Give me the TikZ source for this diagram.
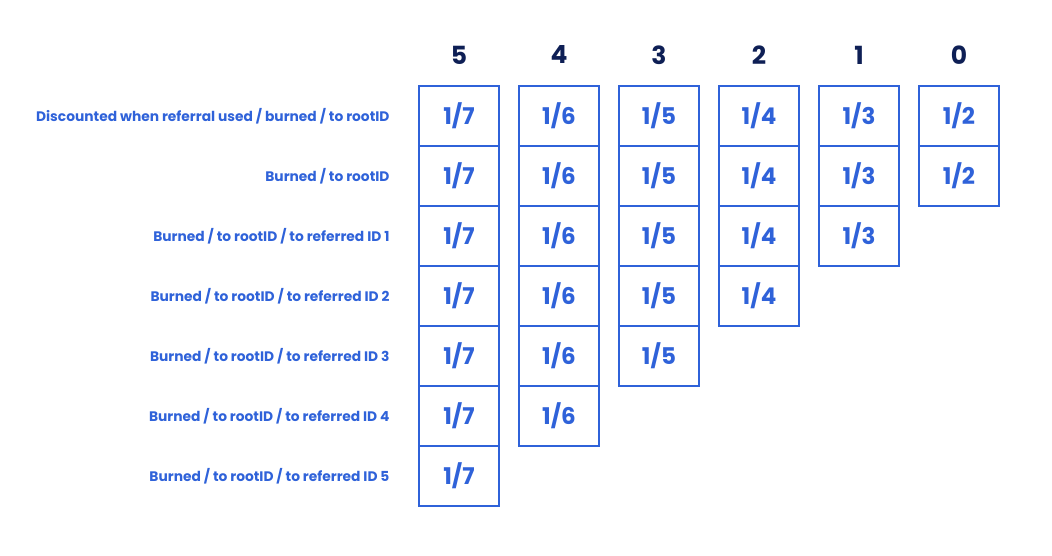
\documentclass[tikz,border=0pt]{standalone}
\usepackage{fontspec}
\setmainfont{Poppins}
\definecolor{shareblue}{HTML}{2F62D9}
\definecolor{headnavy}{HTML}{0E1F55}
\tikzset{
  sharebox/.style={draw=shareblue, line width=1.5pt, minimum width=80pt, minimum height=60pt,
    inner sep=0pt, text=shareblue, font=\fontsize{23}{23}\selectfont\bfseries},
  colhead/.style={text=headnavy, font=\fontsize{25}{25}\selectfont\bfseries},
  rowlabel/.style={anchor=east, text=shareblue, font=\fontsize{13.8}{15}\selectfont\bfseries}
}
\begin{document}
\begin{tikzpicture}[x=1pt,y=-1pt]
  \useasboundingbox (0,0) rectangle (1052,556);
  \foreach \k/\d in {0/7,1/6,2/5,3/4,4/3,5/2} {
    \pgfmathtruncatemacro\hd{5-\k}
    \node[colhead] (head\k) at (459+100*\k,55) {\hd};
    \pgfmathtruncatemacro\nrows{6-\k}
    \foreach \r in {0,...,\nrows}
      \node[sharebox] (box\k-\r) at (459+100*\k,116+60*\r) {1/\d};
  }
  \node[rowlabel] (lab0) at (393,116) {Discounted when referral used / burned / to rootID};
  \node[rowlabel] (lab1) at (393,176) {Burned / to rootID};
  \foreach \r in {1,...,5}
    \node[rowlabel] (lab\r+1) at (393,176+60*\r) {Burned / to rootID / to referred ID \r};
\end{tikzpicture}
\end{document}
